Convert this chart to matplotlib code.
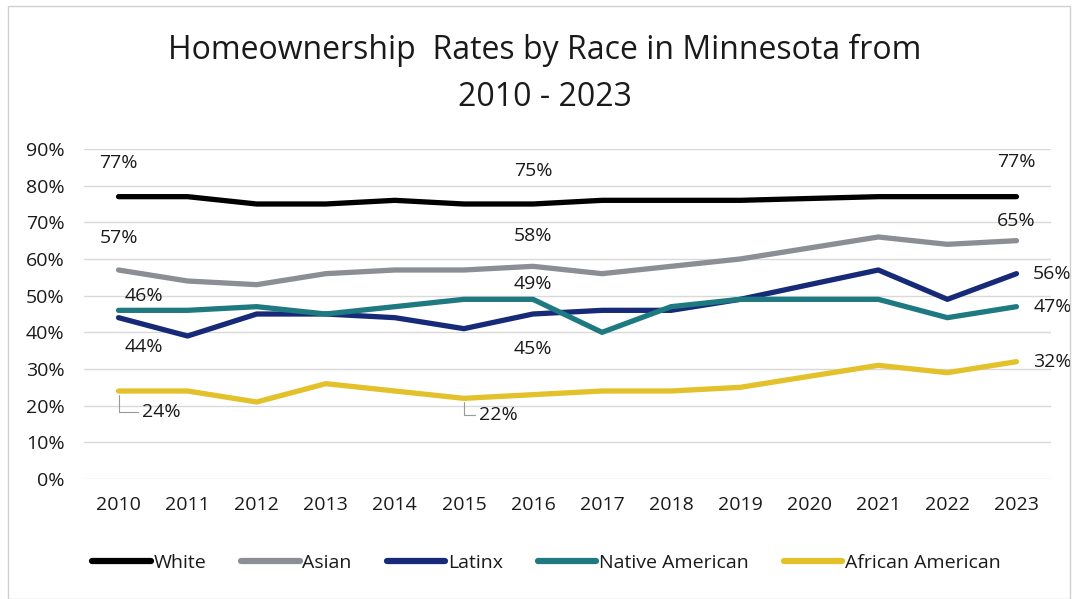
import matplotlib
matplotlib.use("Agg")
import matplotlib.pyplot as plt
from matplotlib.patches import Rectangle

years = list(range(2010, 2024))
white = [77, 77, 75, 75, 76, 75, 75, 76, 76, 76, 76.5, 77, 77, 77]
asian = [57, 54, 53, 56, 57, 57, 58, 56, 58, 60, 63, 66, 64, 65]
latinx = [44, 39, 45, 45, 44, 41, 45, 46, 46, 49, 53, 57, 49, 56]
native = [46, 46, 47, 45, 47, 49, 49, 40, 47, 49, 49, 49, 44, 47]
african = [24, 24, 21, 26, 24, 22, 23, 24, 24, 25, 28, 31, 29, 32]

series_names = ["White", "Asian", "Latinx", "Native American", "African American"]
colors = ["#000000", "#8b8e95", "#172a78", "#1e7a80", "#e3c12a"]

plt.rcParams['font.family'] = ['Open Sans', 'DejaVu Sans']
TXT = '#1a1a1a'
FS = 14

fig = plt.figure(figsize=(10.76, 5.99), dpi=100)
ax = fig.add_axes([84/1076, 120/599, (1051-84)/1076, (479-149)/599])

data = [white, asian, latinx, native, african]
for vals, name, c in zip(data, series_names, colors):
    ax.plot(years, [v/100 for v in vals], color=c, lw=3.8, label=name, solid_capstyle='round')

ax.set_xlim(2009.5, 2023.5)
ax.set_ylim(0, 0.9)
ax.set_yticks([i/10 for i in range(10)])
ax.set_yticklabels([f"{i*10}%" for i in range(10)], fontsize=FS)
ax.set_xticks(years)
ax.set_xticklabels([str(y) for y in years], fontsize=FS)
ax.tick_params(axis='both', length=0, colors=TXT)
ax.tick_params(axis='x', pad=12)
ax.tick_params(axis='y', pad=14)
ax.grid(axis='y', color='#d9d9d9', lw=1)
ax.set_axisbelow(True)
for s in ax.spines.values():
    s.set_visible(False)

def lab(x, v, dx, dy, ha='center'):
    ax.annotate(f"{round(v)}%", xy=(x, v/100), xytext=(dx, dy), textcoords='offset points',
                ha=ha, va='center', fontsize=FS, color=TXT)

i16 = years.index(2016)
# White
lab(2010, white[0], 0, 24)
lab(2016, white[i16], 0, 24)
lab(2023, white[-1], 0, 25)
# Asian
lab(2010, asian[0], 0, 23)
lab(2016, asian[i16], 0, 22)
lab(2023, asian[-1], 0, 14)
# Native
lab(2010, native[0], 18, 10)
lab(2016, native[i16], 0, 11)
lab(2023, native[-1], 12, 0, ha='left')
# Latinx
lab(2010, latinx[0], 18, -21)
lab(2016, latinx[i16], 0, -25)
lab(2023, latinx[-1], 12, 0, ha='left')
# African
lab(2023, african[-1], 12, 0, ha='left')
for yr, dx, dy in ((2010, 17, -15), (2015, 11, -12)):
    k = years.index(yr)
    ax.annotate(f"{round(african[k])}%", xy=(yr, african[k]/100), xytext=(dx, dy),
                textcoords='offset points', ha='left', va='center', fontsize=FS, color=TXT,
                arrowprops=dict(arrowstyle='-', color='#999999', lw=0.8,
                                connectionstyle='angle,angleA=0,angleB=90,rad=0',
                                shrinkA=1, shrinkB=3))

fig.text(0.506, 1 - 50/599, "Homeownership  Rates by Race in Minnesota from",
         ha='center', va='center', fontsize=23, color=TXT)
fig.text(0.506, 1 - 97/599, "2010 - 2023", ha='center', va='center', fontsize=23, color=TXT)

leg = fig.legend(loc='center', bbox_to_anchor=(0.508, (599-563)/599), ncol=5, frameon=False,
                 fontsize=FS, handlelength=3.0, handletextpad=0.15, columnspacing=1.8)
for h in leg.legend_handles:
    h.set_linewidth(4.5)
for t in leg.get_texts():
    t.set_color(TXT)

fig.patches.append(Rectangle((8/1076, 0.0), (1070-8)/1076, (599-6)/599, transform=fig.transFigure,
                             fill=False, edgecolor='#d0d0d0', lw=1))

fig.savefig("out.png", dpi=100)
